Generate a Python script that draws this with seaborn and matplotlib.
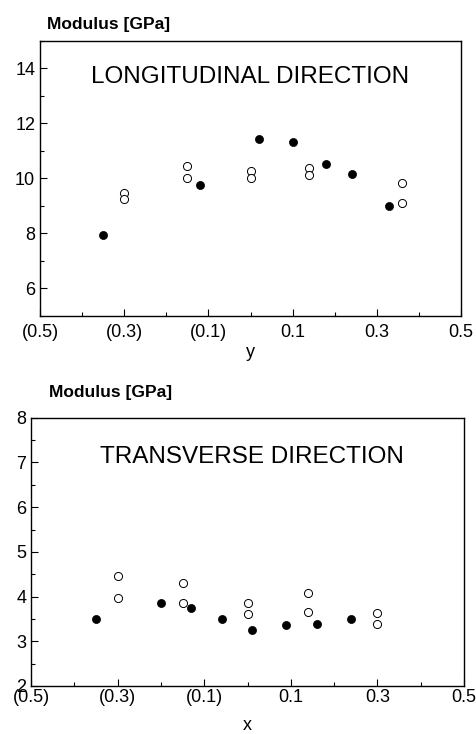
import matplotlib
matplotlib.use("Agg")
import matplotlib.pyplot as plt
import seaborn as sns
import pandas as pd
from matplotlib.ticker import MultipleLocator, FixedLocator

sns.set_style("ticks")
plt.rcParams['font.family'] = ['Liberation Sans', 'DejaVu Sans']
plt.rcParams['text.color'] = 'black'
plt.rcParams['axes.labelcolor'] = 'black'

# ---- data: longitudinal (vs y) ----
long_filled_x = [-0.35, -0.12, 0.02, 0.10, 0.18, 0.24, 0.33]
long_filled_y = [7.95, 9.77, 11.44, 11.32, 10.52, 10.17, 9.0]
long_open_x = [-0.30, -0.30, -0.15, -0.15, 0.0, 0.0, 0.14, 0.14, 0.36, 0.36]
long_open_y = [9.46, 9.25, 10.47, 10.0, 10.26, 10.01, 10.37, 10.13, 9.82, 9.12]

# ---- data: transverse (vs x) ----
trans_filled_x = [-0.35, -0.20, -0.13, -0.06, 0.01, 0.09, 0.16, 0.24]
trans_filled_y = [3.50, 3.85, 3.74, 3.50, 3.26, 3.37, 3.38, 3.50]
trans_open_x = [-0.30, -0.30, -0.15, -0.15, 0.0, 0.0, 0.14, 0.14, 0.30, 0.30]
trans_open_y = [4.45, 3.97, 4.31, 3.86, 3.86, 3.62, 4.09, 3.66, 3.64, 3.39]

xtick_vals = [-0.5, -0.3, -0.1, 0.1, 0.3, 0.5]
xtick_labels = ["(0.5)", "(0.3)", "(0.1)", "0.1", "0.3", "0.5"]
long_yticks = [6, 8, 10, 12, 14]
trans_yticks = [2, 3, 4, 5, 6, 7, 8]

fig = plt.figure(figsize=(4.77, 7.34), dpi=100)
ax1 = fig.add_axes([0.0839, 0.5695, 0.8826, 0.3747])
ax2 = fig.add_axes([0.065, 0.0654, 0.9078, 0.3655])

def draw(ax, fx, fy, ox, oy):
    sns.scatterplot(x=fx, y=fy, ax=ax, color="black", s=34, marker="o",
                    edgecolor="black", linewidth=0.5, zorder=3)
    sns.scatterplot(x=ox, y=oy, ax=ax, facecolor="white", s=34, marker="o",
                    edgecolor="black", linewidth=0.7, zorder=3)

draw(ax1, long_filled_x, long_filled_y, long_open_x, long_open_y)
draw(ax2, trans_filled_x, trans_filled_y, trans_open_x, trans_open_y)

for ax in (ax1, ax2):
    ax.set_xlim(-0.5, 0.5)
    ax.xaxis.set_major_locator(FixedLocator(xtick_vals))
    ax.set_xticklabels(xtick_labels)
    ax.xaxis.set_minor_locator(MultipleLocator(0.1))
    ax.tick_params(which="both", direction="in", labelsize=13, colors="black", width=0.8)
    ax.tick_params(which="major", length=5)
    ax.tick_params(which="minor", length=3)
    ax.tick_params(axis="x", pad=6)
    for sp in ax.spines.values():
        sp.set_visible(True)
        sp.set_linewidth(1.0)
        sp.set_color("black")

ax1.set_ylim(5, 15)
ax1.yaxis.set_major_locator(FixedLocator(long_yticks))
ax1.yaxis.set_minor_locator(MultipleLocator(1))
ax1.set_xlabel("y", fontsize=13, labelpad=2)
ax1.set_ylabel("")
ax1.text(0.0, 13.68, "LONGITUDINAL DIRECTION", fontsize=17.5, ha="center", va="center")
fig.text(47/477, 1 - 24/734, "Modulus [GPa]", fontsize=12.5, fontweight="bold", ha="left", va="center")

ax2.set_ylim(2, 8)
ax2.yaxis.set_major_locator(FixedLocator(trans_yticks))
ax2.yaxis.set_minor_locator(MultipleLocator(0.5))
ax2.set_xlabel("x", fontsize=13, labelpad=8)
ax2.set_ylabel("")
ax2.tick_params(axis="x", pad=2)
ax2.text(0.01, 7.13, "TRANSVERSE DIRECTION", fontsize=17.5, ha="center", va="center")
fig.text(49/477, 1 - 392/734, "Modulus [GPa]", fontsize=12.5, fontweight="bold", ha="left", va="center")

fig.savefig("out.png", dpi=100)
